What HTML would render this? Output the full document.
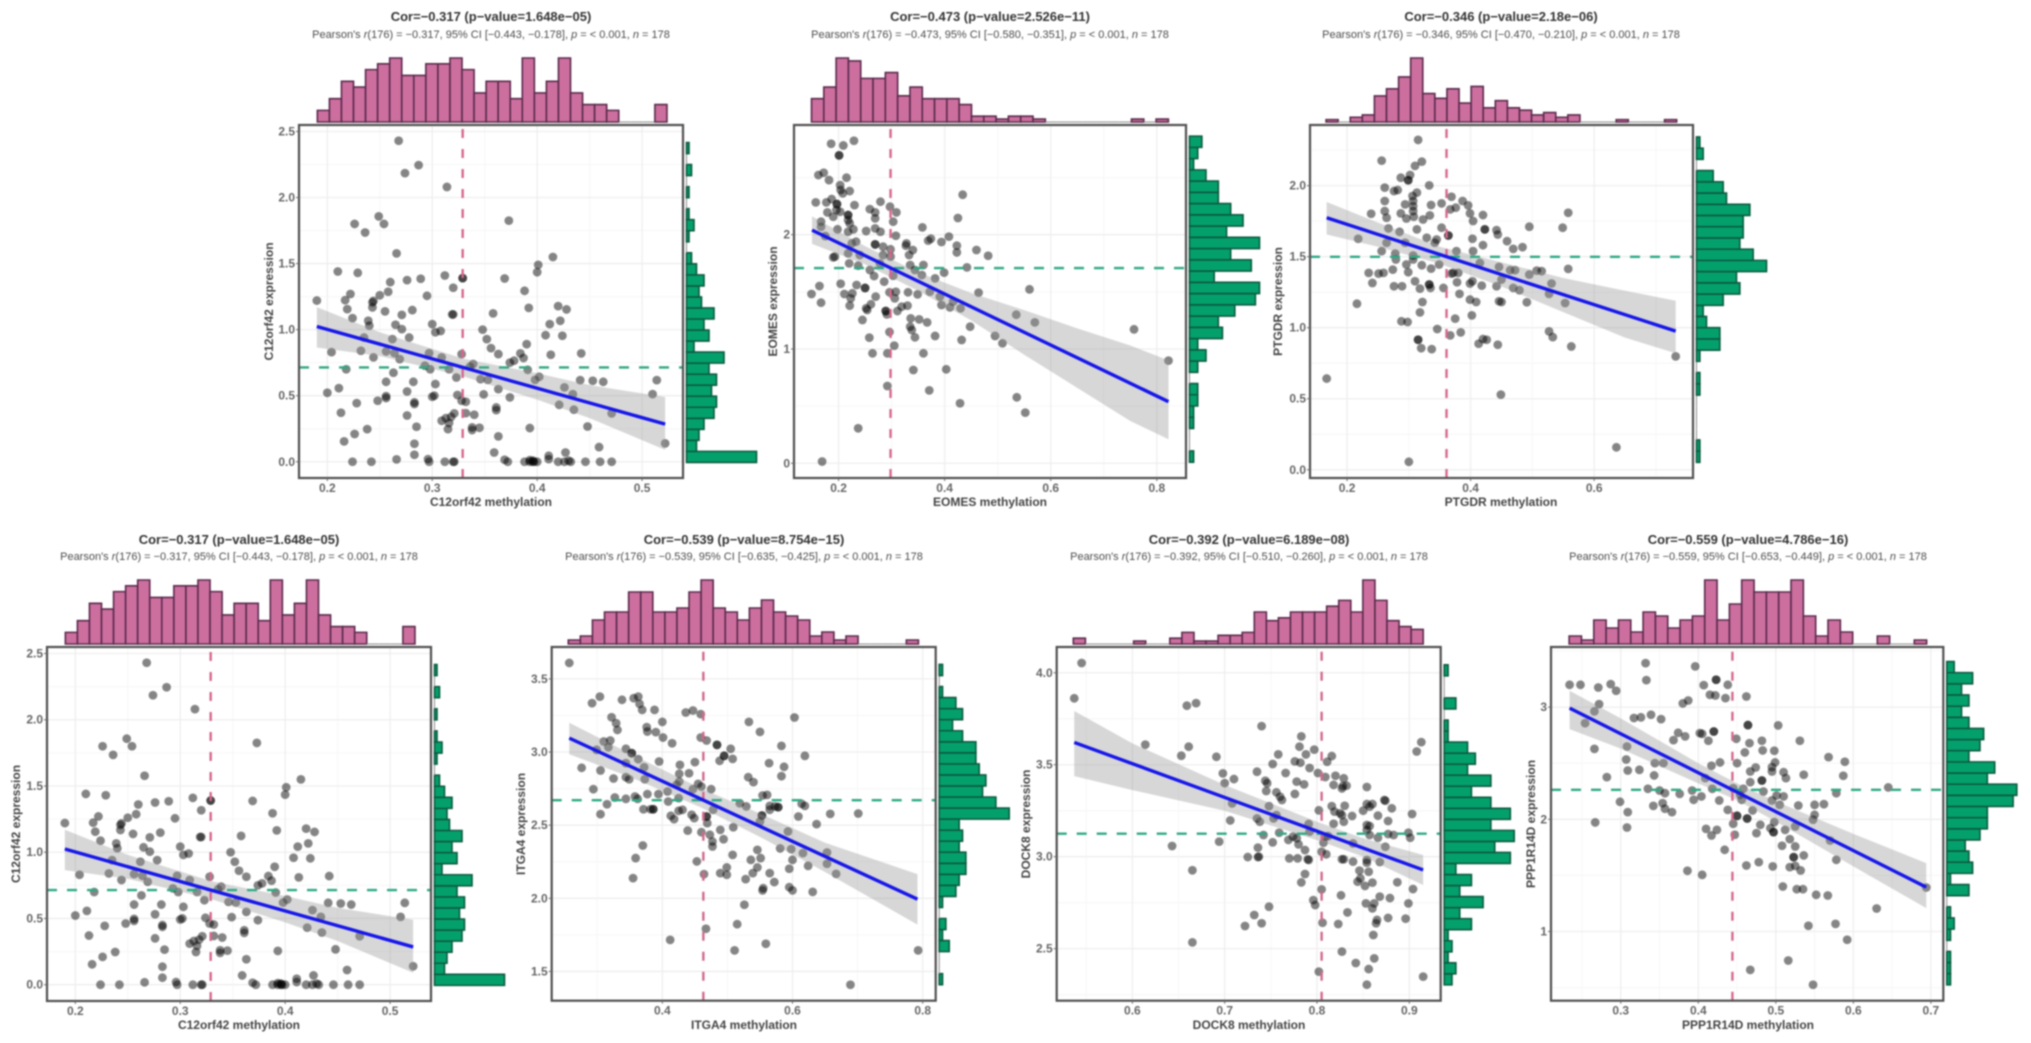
<!DOCTYPE html>
<html lang="en">
<head>
<meta charset="utf-8">
<title>Methylation and expression correlation panels</title>
<style>
html,body{margin:0;padding:0;background:#fff;width:2031px;height:1043px;overflow:hidden}
svg{display:block;filter:blur(.8px)}
text{font-family:"Liberation Sans",sans-serif}
.title{font-size:13px;font-weight:bold;fill:#333;text-anchor:middle}
.sub{font-size:11px;fill:#4c4c4c;text-anchor:middle}
.sub tspan{font-style:italic}
.axt{font-size:12px;font-weight:bold;fill:#444;text-anchor:middle}
.tick{font-size:12px;font-weight:bold;fill:#666}
</style>
</head>
<body>
<svg id="fig" width="2031" height="1043" viewBox="0 0 2031 1043" xmlns="http://www.w3.org/2000/svg">
<rect width="2031" height="1043" fill="#fff"/>
<g id="marks"></g>

<text class="title" x="491" y="21">Cor=−0.317 (p−value=1.648e−05)</text>
<text class="sub" x="491" y="38">Pearson's <tspan>r</tspan>(176) = −0.317, 95% CI [−0.443, −0.178], <tspan>p</tspan> = &lt; 0.001, <tspan>n</tspan> = 178</text>
<text class="axt" x="491" y="506">C12orf42 methylation</text>
<text class="axt" transform="translate(273,301.5) rotate(-90)">C12orf42 expression</text>

<text class="title" x="990" y="21">Cor=−0.473 (p−value=2.526e−11)</text>
<text class="sub" x="990" y="38">Pearson's <tspan>r</tspan>(176) = −0.473, 95% CI [−0.580, −0.351], <tspan>p</tspan> = &lt; 0.001, <tspan>n</tspan> = 178</text>
<text class="axt" x="990" y="506">EOMES methylation</text>
<text class="axt" transform="translate(777,301.5) rotate(-90)">EOMES expression</text>

<text class="title" x="1501" y="21">Cor=−0.346 (p−value=2.18e−06)</text>
<text class="sub" x="1501" y="38">Pearson's <tspan>r</tspan>(176) = −0.346, 95% CI [−0.470, −0.210], <tspan>p</tspan> = &lt; 0.001, <tspan>n</tspan> = 178</text>
<text class="axt" x="1501" y="506">PTGDR methylation</text>
<text class="axt" transform="translate(1282,301.5) rotate(-90)">PTGDR expression</text>

<text class="title" x="239" y="544">Cor=−0.317 (p−value=1.648e−05)</text>
<text class="sub" x="239" y="560">Pearson's <tspan>r</tspan>(176) = −0.317, 95% CI [−0.443, −0.178], <tspan>p</tspan> = &lt; 0.001, <tspan>n</tspan> = 178</text>
<text class="axt" x="239" y="1029">C12orf42 methylation</text>
<text class="axt" transform="translate(20,824) rotate(-90)">C12orf42 expression</text>

<text class="title" x="744" y="544">Cor=−0.539 (p−value=8.754e−15)</text>
<text class="sub" x="744" y="560">Pearson's <tspan>r</tspan>(176) = −0.539, 95% CI [−0.635, −0.425], <tspan>p</tspan> = &lt; 0.001, <tspan>n</tspan> = 178</text>
<text class="axt" x="744" y="1029">ITGA4 methylation</text>
<text class="axt" transform="translate(525,824) rotate(-90)">ITGA4 expression</text>

<text class="title" x="1249" y="544">Cor=−0.392 (p−value=6.189e−08)</text>
<text class="sub" x="1249" y="560">Pearson's <tspan>r</tspan>(176) = −0.392, 95% CI [−0.510, −0.260], <tspan>p</tspan> = &lt; 0.001, <tspan>n</tspan> = 178</text>
<text class="axt" x="1249" y="1029">DOCK8 methylation</text>
<text class="axt" transform="translate(1030,824) rotate(-90)">DOCK8 expression</text>

<text class="title" x="1748" y="544">Cor=−0.559 (p−value=4.786e−16)</text>
<text class="sub" x="1748" y="560">Pearson's <tspan>r</tspan>(176) = −0.559, 95% CI [−0.653, −0.449], <tspan>p</tspan> = &lt; 0.001, <tspan>n</tspan> = 178</text>
<text class="axt" x="1748" y="1029">PPP1R14D methylation</text>
<text class="axt" transform="translate(1535,824) rotate(-90)">PPP1R14D expression</text>
</svg>

<script>
// ---------- C12orf42 ----------
const c12Samples = [[.268,2.43],[.287,2.245],[.274,2.185],[.314,2.08],[.249,1.857],[.254,1.80],[.226,1.80],[.236,1.735],[.373,1.825],[.266,1.577],[.415,1.55],[.401,1.49],[.400,1.435],[.21,1.44],[.229,1.43],[.312,1.41],[.329,1.39],[.329,1.39],[.276,1.375],[.289,1.385],[.369,1.387],[.26,1.36],[.32,1.317],[.388,1.294],[.258,1.287],[.25,1.26],[.222,1.27],[.295,1.256],[.19,1.22],[.217,1.223],[.244,1.218],[.243,1.206],[.243,1.168],[.219,1.155],[.255,1.138],[.281,1.148],[.271,1.112],[.32,1.115],[.319,1.115],[.358,1.123],[.392,1.165],[.42,1.178],[.428,1.153],[.224,1.087],[.239,1.067],[.24,1.03],[.265,1.037],[.271,1.004],[.3,1.042],[.412,1.042],[.422,1.067],[.348,1.0],[.303,.98],[.308,.99],[.408,.958],[.424,.954],[.278,.94],[.235,.94],[.262,.928],[.352,.928],[.39,.89],[.356,.86],[.204,.83],[.232,.84],[.256,.835],[.264,.822],[.297,.822],[.328,.815],[.363,.815],[.413,.81],[.442,.82],[.384,.82],[.387,.785],[.244,.79],[.269,.777],[.309,.79],[.378,.765],[.374,.75],[.339,.74],[.336,.72],[.293,.727],[.298,.70],[.218,.70],[.391,.696],[.316,.70],[.263,.674],[.323,.638],[.346,.625],[.353,.62],[.402,.643],[.398,.62],[.441,.618],[.453,.613],[.463,.605],[.514,.618],[.51,.512],[.256,.605],[.282,.605],[.303,.588],[.426,.563],[.363,.55],[.211,.557],[.2,.522],[.276,.532],[.324,.505],[.349,.51],[.374,.487],[.434,.512],[.302,.5],[.3,.492],[.256,.497],[.256,.482],[.248,.462],[.228,.444],[.283,.45],[.283,.437],[.328,.462],[.332,.454],[.421,.431],[.435,.394],[.361,.411],[.361,.391],[.213,.371],[.276,.35],[.321,.366],[.332,.368],[.34,.356],[.471,.366],[.309,.31],[.313,.33],[.318,.34],[.316,.293],[.315,.247],[.338,.26],[.345,.257],[.338,.24],[.285,.265],[.393,.255],[.448,.267],[.238,.247],[.226,.21],[.363,.192],[.216,.154],[.283,.136],[.459,.111],[.522,.139],[.283,.053],[.359,.07],[.427,.07],[.411,.045],[.411,.02],[.296,.02],[.266,.018],[.369,.015],[.224,0],[.242,0],[.297,0],[.312,0],[.32,0],[.321,0],[.372,0],[.388,0],[.393,.012],[.396,.008],[.397,0],[.4,0],[.393,0],[.396,0],[.42,0],[.426,0],[.43,.008],[.432,0],[.446,0],[.46,0],[.471,0]];
const c12FitX = [.19,.522];
const c12FitY = [1.024,.285];
const c12BandX = [.19,.25,.33,.40,.45,.522];
const c12BandLow = [.865,.80,.645,.47,.33,.09];
const c12BandHigh = [1.17,.98,.78,.67,.58,.49];
const c12XCounts = [2,4,7,6,9,10,11,8,8,10,10,11,9,5,7,7,4,11,5,7,11,5,3,3,2,0,0,0,3];
const c12YCounts = [28,4,5,7,11,12,10,12,9,15,3,9,7,11,6,5,7,4,2,0,1,3,1,0,1,0,2,0,1];
const c12XTicks = [.2,.3,.4,.5];
const c12XLabels = ['0.2','0.3','0.4','0.5'];
const c12YTicks = [0,.5,1,1.5,2,2.5];
const c12YLabels = ['0.0','0.5','1.0','1.5','2.0','2.5'];
const c12Medians = [.329,.714];

// ---------- EOMES ----------
const eomesSamples = [[.186,2.796],[.209,2.781],[.229,2.822],[.201,2.694],[.201,2.694],[.162,2.522],[.172,2.542],[.215,2.499],[.182,2.478],[.203,2.434],[.204,2.391],[.221,2.382],[.208,2.362],[.157,2.283],[.177,2.283],[.187,2.312],[.197,2.268],[.197,2.268],[.230,2.259],[.279,2.289],[.297,2.245],[.309,2.195],[.434,2.350],[.425,2.146],[.259,2.224],[.269,2.195],[.269,2.143],[.179,2.195],[.196,2.216],[.203,2.201],[.218,2.172],[.218,2.172],[.190,2.157],[.218,2.128],[.167,2.114],[.303,2.114],[.221,2.099],[.358,2.064],[.167,2.070],[.198,2.047],[.228,2.047],[.218,2.026],[.252,2.032],[.269,2.055],[.279,2.026],[.308,1.991],[.175,1.988],[.408,1.983],[.374,1.965],[.369,1.948],[.394,1.936],[.423,1.904],[.423,1.845],[.460,1.866],[.482,1.816],[.328,1.924],[.269,1.915],[.269,1.915],[.233,1.939],[.284,1.895],[.298,1.872],[.340,1.866],[.327,1.904],[.225,1.924],[.193,1.808],[.190,1.802],[.218,1.837],[.240,1.822],[.284,1.822],[.298,1.808],[.333,1.822],[.220,1.749],[.237,1.729],[.259,1.691],[.267,1.638],[.303,1.641],[.278,1.749],[.335,1.735],[.344,1.691],[.360,1.735],[.382,1.618],[.399,1.668],[.442,1.714],[.357,1.647],[.164,1.551],[.204,1.571],[.234,1.560],[.211,1.481],[.226,1.487],[.223,1.443],[.149,1.481],[.167,1.405],[.250,1.534],[.250,1.534],[.270,1.458],[.286,1.589],[.296,1.496],[.308,1.501],[.306,1.443],[.331,1.496],[.349,1.478],[.372,1.501],[.464,1.493],[.560,1.522],[.221,1.379],[.261,1.391],[.252,1.356],[.254,1.341],[.289,1.332],[.289,1.332],[.291,1.303],[.311,1.332],[.319,1.370],[.330,1.379],[.394,1.385],[.410,1.364],[.416,1.414],[.430,1.356],[.391,1.458],[.245,1.254],[.336,1.268],[.352,1.259],[.367,1.233],[.535,1.300],[.570,1.233],[.335,1.195],[.338,1.166],[.448,1.195],[.296,1.149],[.258,1.099],[.344,1.102],[.382,1.114],[.432,1.079],[.495,1.114],[.509,1.050],[.757,1.172],[.305,1.029],[.264,.962],[.292,.962],[.360,.962],[.341,.816],[.403,.822],[.822,.898],[.292,.676],[.371,.638],[.536,.577],[.429,.525],[.552,.443],[.237,.306],[.169,.015]];
const eomesFitX = [.15,.822];
const eomesFitY = [2.04,.539];
const eomesBandX = [.15,.25,.35,.45,.55,.65,.75,.822];
const eomesBandLow = [1.92,1.74,1.51,1.25,.95,.66,.37,.21];
const eomesBandHigh = [2.16,1.90,1.67,1.49,1.34,1.18,1.03,.90];
const eomesXCounts = [8,12,22,21,15,15,17,9,12,8,8,8,6,2,2,1,2,2,1,0,0,0,0,0,0,0,1,0,1];
const eomesYCounts = [1,0,0,1,1,2,2,0,2,4,2,8,7,11,16,17,6,15,10,17,9,13,10,7,7,4,1,2,3];
const eomesXTicks = [.2,.4,.6,.8];
const eomesXLabels = ['0.2','0.4','0.6','0.8'];
const eomesYTicks = [0,1,2];
const eomesYLabels = ['0','1','2'];
const eomesMedians = [.298,1.708];

// ---------- PTGDR ----------
const ptgdrSamples = [[.315,2.322],[.256,2.176],[.321,2.169],[.310,2.139],[.287,2.056],[.302,2.075],[.299,2.038],[.299,2.038],[.261,1.986],[.282,1.969],[.276,1.962],[.333,2.002],[.313,1.951],[.306,1.927],[.261,1.892],[.307,1.892],[.307,1.856],[.294,1.868],[.369,1.922],[.353,1.875],[.387,1.892],[.396,1.861],[.376,1.845],[.367,1.833],[.336,1.864],[.261,1.821],[.287,1.805],[.239,1.802],[.307,1.821],[.308,1.781],[.264,1.774],[.296,1.769],[.334,1.791],[.323,1.762],[.399,1.805],[.420,1.793],[.404,1.751],[.558,1.809],[.495,1.711],[.549,1.704],[.267,1.699],[.285,1.675],[.313,1.692],[.353,1.704],[.423,1.692],[.423,1.692],[.442,1.687],[.444,1.656],[.364,1.649],[.364,1.649],[.218,1.626],[.329,1.633],[.342,1.598],[.403,1.626],[.420,1.581],[.459,1.609],[.469,1.555],[.484,1.567],[.264,1.598],[.294,1.598],[.256,1.539],[.278,1.522],[.307,1.508],[.377,1.539],[.404,1.539],[.345,1.621],[.279,1.48],[.307,1.48],[.296,1.445],[.299,1.391],[.235,1.386],[.251,1.381],[.259,1.386],[.274,1.409],[.321,1.44],[.336,1.416],[.349,1.445],[.415,1.456],[.446,1.428],[.464,1.405],[.472,1.405],[.495,1.374],[.507,1.402],[.515,1.398],[.558,1.414],[.372,1.386],[.380,1.386],[.369,1.381],[.378,1.32],[.356,1.28],[.241,1.315],[.276,1.292],[.289,1.292],[.310,1.327],[.318,1.275],[.333,1.304],[.333,1.304],[.335,1.28],[.399,1.311],[.403,1.327],[.418,1.296],[.442,1.292],[.450,1.339],[.469,1.28],[.479,1.264],[.531,1.311],[.527,1.238],[.553,1.174],[.382,1.238],[.399,1.198],[.409,1.181],[.446,1.186],[.450,1.181],[.491,1.179],[.216,1.169],[.322,1.181],[.318,1.108],[.288,1.045],[.298,1.04],[.375,1.064],[.402,1.087],[.346,.991],[.367,.946],[.384,.967],[.527,.974],[.533,.934],[.315,.915],[.315,.915],[.320,.856],[.337,.849],[.413,.887],[.420,.92],[.426,.915],[.444,.88],[.563,.868],[.732,.798],[.167,.642],[.449,.529],[.636,.158],[.300,.056]];
const ptgdrFitX = [.167,.732];
const ptgdrFitY = [1.774,.976];
const ptgdrBandX = [.167,.25,.35,.45,.55,.65,.732];
const ptgdrBandLow = [1.656,1.57,1.45,1.29,1.11,.93,.82];
const ptgdrBandHigh = [1.885,1.74,1.57,1.46,1.35,1.26,1.19];
const ptgdrXCounts = [1,0,2,3,11,14,19,27,12,10,14,8,15,6,9,6,5,3,4,2,3,0,0,0,1,0,0,0,1];
const ptgdrYCounts = [1,1,0,0,0,0,1,1,0,1,7,7,3,2,8,13,12,21,17,13,14,14,16,9,8,5,0,2,1];
const ptgdrXTicks = [.2,.4,.6];
const ptgdrXLabels = ['0.2','0.4','0.6'];
const ptgdrYTicks = [0,.5,1,1.5,2];
const ptgdrYLabels = ['0.0','0.5','1.0','1.5','2.0'];
const ptgdrMedians = [.361,1.499];

// ---------- ITGA4 ----------
const itga4Samples = [[.257,3.609],[.304,3.379],[.292,3.334],[.338,3.357],[.356,3.368],[.363,3.379],[.365,3.329],[.369,3.288],[.388,3.288],[.436,3.270],[.447,3.284],[.459,3.259],[.603,3.236],[.322,3.238],[.400,3.206],[.329,3.197],[.331,3.151],[.376,3.170],[.377,3.140],[.390,3.136],[.401,3.099],[.533,3.206],[.550,3.138],[.415,3.060],[.459,3.099],[.468,3.079],[.484,3.049],[.484,3.049],[.505,3.022],[.583,3.042],[.619,2.974],[.310,3.072],[.320,3.079],[.317,3.033],[.344,3.022],[.353,2.992],[.353,2.992],[.363,2.951],[.299,3.015],[.495,2.974],[.495,2.974],[.488,2.94],[.508,2.953],[.395,2.935],[.564,2.924],[.427,2.912],[.450,2.931],[.587,2.899],[.372,2.896],[.344,2.924],[.276,2.892],[.305,2.874],[.426,2.851],[.441,2.855],[.583,2.835],[.532,2.828],[.540,2.794],[.325,2.819],[.344,2.828],[.349,2.814],[.373,2.814],[.426,2.798],[.422,2.776],[.455,2.782],[.460,2.764],[.294,2.746],[.447,2.746],[.475,2.746],[.408,2.730],[.377,2.712],[.394,2.712],[.327,2.689],[.344,2.680],[.358,2.696],[.362,2.680],[.425,2.685],[.554,2.703],[.561,2.707],[.614,2.646],[.409,2.662],[.519,2.650],[.315,2.643],[.371,2.609],[.382,2.609],[.386,2.609],[.386,2.609],[.425,2.598],[.431,2.605],[.478,2.605],[.529,2.628],[.565,2.632],[.573,2.628],[.578,2.623],[.578,2.623],[.565,2.605],[.619,2.632],[.305,2.575],[.413,2.564],[.418,2.541],[.445,2.571],[.449,2.548],[.468,2.559],[.468,2.559],[.553,2.566],[.553,2.566],[.609,2.559],[.658,2.577],[.701,2.580],[.469,2.514],[.550,2.525],[.637,2.507],[.509,2.486],[.439,2.463],[.460,2.452],[.489,2.468],[.473,2.434],[.593,2.457],[.494,2.404],[.477,2.388],[.477,2.354],[.370,2.361],[.546,2.331],[.581,2.341],[.598,2.336],[.616,2.309],[.653,2.313],[.508,2.297],[.359,2.275],[.536,2.263],[.551,2.275],[.600,2.263],[.453,2.252],[.653,2.236],[.624,2.222],[.499,2.211],[.546,2.211],[.595,2.202],[.489,2.172],[.499,2.161],[.539,2.172],[.565,2.172],[.667,2.167],[.464,2.165],[.355,2.138],[.528,2.131],[.572,2.111],[.555,2.069],[.554,2.054],[.595,2.076],[.600,2.054],[.631,2.044],[.526,1.956],[.515,1.823],[.467,1.792],[.412,1.716],[.559,1.689],[.511,1.644],[.793,1.644],[.689,1.409]];
const itga4FitX = [.257,.792];
const itga4FitY = [3.095,1.994];
const itga4BandX = [.257,.35,.46,.55,.65,.792];
const itga4BandLow = [2.985,2.83,2.62,2.42,2.18,1.82];
const itga4BandHigh = [3.20,2.99,2.75,2.58,2.38,2.165];
const itga4XCounts = [1,2,6,8,8,13,13,8,8,9,13,16,9,8,6,9,11,8,7,6,2,3,1,2,0,0,0,0,1];
const itga4YCounts = [1,0,0,3,1,2,0,1,5,6,8,8,6,7,6,21,17,13,14,12,11,11,7,4,7,5,1,0,1];
const itga4XTicks = [.4,.6,.8];
const itga4XLabels = ['0.4','0.6','0.8'];
const itga4YTicks = [1.5,2,2.5,3,3.5];
const itga4YLabels = ['1.5','2.0','2.5','3.0','3.5'];
const itga4Medians = [.463,2.671];

// ---------- DOCK8 ----------
const dock8Samples = [[.545,4.053],[.537,3.861],[.659,3.821],[.669,3.835],[.740,3.71],[.614,3.609],[.783,3.654],[.781,3.598],[.661,3.598],[.653,3.549],[.691,3.543],[.758,3.556],[.788,3.556],[.797,3.582],[.913,3.623],[.908,3.572],[.816,3.547],[.811,3.516],[.752,3.504],[.776,3.518],[.782,3.511],[.792,3.482],[.735,3.462],[.766,3.455],[.698,3.453],[.801,3.455],[.809,3.433],[.820,3.44],[.829,3.426],[.710,3.422],[.744,3.413],[.746,3.399],[.778,3.408],[.786,3.393],[.700,3.4],[.818,3.39],[.827,3.371],[.832,3.386],[.828,3.384],[.854,3.379],[.745,3.357],[.756,3.35],[.776,3.341],[.762,3.308],[.760,3.326],[.874,3.304],[.873,3.308],[.881,3.263],[.708,3.29],[.748,3.275],[.816,3.275],[.830,3.277],[.854,3.286],[.860,3.286],[.857,3.272],[.850,3.25],[.802,3.252],[.819,3.245],[.825,3.236],[.827,3.226],[.838,3.221],[.866,3.223],[.903,3.232],[.756,3.226],[.735,3.208],[.753,3.208],[.738,3.19],[.706,3.197],[.829,3.19],[.877,3.194],[.791,3.178],[.818,3.179],[.854,3.172],[.857,3.167],[.854,3.145],[.857,3.118],[.866,3.103],[.742,3.118],[.759,3.13],[.774,3.109],[.812,3.112],[.809,3.109],[.877,3.123],[.883,3.118],[.899,3.13],[.901,3.103],[.792,3.136],[.769,3.091],[.778,3.1],[.807,3.076],[.694,3.082],[.752,3.078],[.780,3.067],[.787,3.036],[.736,3.049],[.643,3.058],[.839,3.072],[.874,3.054],[.805,3.027],[.810,3.013],[.725,2.998],[.736,2.998],[.737,3.0],[.770,2.991],[.779,2.991],[.790,2.986],[.791,2.982],[.827,2.986],[.829,2.986],[.839,2.973],[.854,2.982],[.854,2.967],[.868,2.971],[.665,2.926],[.846,2.924],[.856,2.918],[.787,2.906],[.847,2.882],[.844,2.864],[.783,2.86],[.860,2.859],[.887,2.861],[.852,2.841],[.904,2.824],[.805,2.822],[.826,2.79],[.868,2.783],[.879,2.775],[.796,2.764],[.853,2.746],[.862,2.746],[.899,2.746],[.798,2.737],[.748,2.728],[.860,2.719],[.833,2.697],[.732,2.683],[.877,2.667],[.896,2.663],[.865,2.656],[.864,2.638],[.740,2.638],[.806,2.641],[.823,2.634],[.722,2.623],[.861,2.574],[.665,2.534],[.827,2.484],[.862,2.447],[.842,2.422],[.856,2.389],[.802,2.375],[.915,2.348],[.854,2.304]];
const dock8FitX = [.537,.915];
const dock8FitY = [3.621,2.928];
const dock8BandX = [.537,.6,.7,.8,.85,.915];
const dock8BandLow = [3.438,3.362,3.25,3.09,3.00,2.846];
const dock8BandHigh = [3.792,3.616,3.39,3.19,3.10,3.009];
const dock8XCounts = [2,0,0,0,0,1,0,0,2,4,1,1,3,3,4,11,8,9,11,11,11,13,15,11,22,15,8,6,5];
const dock8YCounts = [2,3,1,2,1,7,4,10,4,7,3,17,13,18,12,17,12,7,12,6,8,6,1,1,0,3,0,0,1];
const dock8XTicks = [.6,.7,.8,.9];
const dock8XLabels = ['0.6','0.7','0.8','0.9'];
const dock8YTicks = [2.5,3,3.5,4];
const dock8YLabels = ['2.5','3.0','3.5','4.0'];
const dock8Medians = [.805,3.125];

// ---------- PPP1R14D ----------
const pppSamples = [[.332,3.392],[.396,3.363],[.333,3.241],[.423,3.244],[.423,3.244],[.234,3.199],[.248,3.199],[.271,3.175],[.287,3.205],[.294,3.146],[.407,3.196],[.438,3.199],[.415,3.11],[.422,3.104],[.435,3.08],[.462,3.095],[.272,3.027],[.380,3.033],[.387,3.059],[.266,2.962],[.317,2.903],[.326,2.909],[.339,2.932],[.352,2.893],[.254,2.857],[.464,2.84],[.464,2.84],[.503,2.837],[.374,2.771],[.383,2.739],[.402,2.768],[.405,2.762],[.420,2.783],[.420,2.783],[.368,2.706],[.413,2.70],[.449,2.718],[.466,2.679],[.482,2.70],[.531,2.70],[.266,2.628],[.308,2.649],[.460,2.596],[.483,2.614],[.498,2.611],[.307,2.533],[.344,2.501],[.355,2.501],[.428,2.507],[.450,2.501],[.417,2.477],[.499,2.507],[.568,2.554],[.589,2.513],[.474,2.462],[.495,2.465],[.309,2.435],[.324,2.441],[.467,2.426],[.510,2.42],[.495,2.426],[.536,2.397],[.587,2.388],[.343,2.391],[.282,2.376],[.409,2.367],[.513,2.367],[.467,2.331],[.482,2.346],[.482,2.346],[.335,2.272],[.350,2.257],[.357,2.233],[.418,2.272],[.445,2.278],[.458,2.272],[.392,2.257],[.645,2.284],[.484,2.248],[.578,2.233],[.376,2.227],[.404,2.204],[.454,2.218],[.501,2.212],[.510,2.204],[.394,2.174],[.427,2.168],[.456,2.174],[.495,2.168],[.299,2.156],[.354,2.144],[.342,2.12],[.529,2.123],[.550,2.129],[.562,2.135],[.505,2.129],[.438,2.084],[.357,2.094],[.366,2.064],[.309,2.064],[.470,2.079],[.450,2.031],[.450,2.031],[.463,2.007],[.463,2.007],[.550,2.04],[.548,1.996],[.267,1.972],[.445,1.96],[.498,1.975],[.480,1.951],[.308,1.927],[.410,1.915],[.424,1.906],[.493,1.921],[.512,1.906],[.497,1.886],[.497,1.886],[.475,1.877],[.525,1.936],[.417,1.856],[.447,1.862],[.518,1.823],[.570,1.811],[.508,1.764],[.525,1.758],[.434,1.728],[.536,1.678],[.523,1.663],[.523,1.663],[.578,1.639],[.478,1.618],[.462,1.588],[.496,1.58],[.518,1.574],[.525,1.585],[.532,1.544],[.386,1.541],[.405,1.505],[.509,1.401],[.527,1.377],[.535,1.377],[.694,1.392],[.552,1.327],[.567,1.321],[.630,1.205],[.542,1.051],[.577,1.068],[.592,.926],[.516,.741],[.467,.658],[.548,.525]];
const pppFitX = [.234,.694];
const pppFitY = [2.991,1.395];
const pppBandX = [.234,.3,.4,.45,.5,.6,.694];
const pppBandLow = [2.804,2.63,2.32,2.17,1.98,1.58,1.208];
const pppBandHigh = [3.146,2.90,2.50,2.32,2.16,1.87,1.609];
const pppXCounts = [2,1,6,4,6,3,8,7,4,6,7,16,6,10,16,13,13,13,16,7,2,6,3,0,0,2,0,0,1];
const pppYCounts = [1,1,1,0,1,2,1,0,6,1,7,6,5,9,11,11,18,19,11,13,6,9,10,6,4,6,4,7,2];
const pppXTicks = [.3,.4,.5,.6,.7];
const pppXLabels = ['0.3','0.4','0.5','0.6','0.7'];
const pppYTicks = [1,2,3];
const pppYLabels = ['1','2','3'];
const pppMedians = [.444,2.263];

// ---------- Panel layout (frames, axis domains, histogram bins) ----------
const panels = [
 {key:'c12orf42-top',frame:[299,125,683,478],xDom:[.173,.539],yDom:[-.123,2.549],samples:c12Samples,fitX:c12FitX,fitY:c12FitY,bandX:c12BandX,low:c12BandLow,high:c12BandHigh,xCounts:c12XCounts,yCounts:c12YCounts,xBin:[.1905,.01149],yBin:[-.005,.0835],xT:c12XTicks,xL:c12XLabels,yT:c12YTicks,yL:c12YLabels,med:c12Medians},
 {key:'eomes',frame:[794,125,1186,478],xDom:[.116,.855],yDom:[-.129,2.96],samples:eomesSamples,fitX:eomesFitX,fitY:eomesFitY,bandX:eomesBandX,low:eomesBandLow,high:eomesBandHigh,xCounts:eomesXCounts,yCounts:eomesYCounts,xBin:[.149,.0232],yBin:[.009,.0984],xT:eomesXTicks,xL:eomesXLabels,yT:eomesYTicks,yL:eomesYLabels,med:eomesMedians},
 {key:'ptgdr',frame:[1310,125,1693,478],xDom:[.140,.760],yDom:[-.058,2.427],samples:ptgdrSamples,fitX:ptgdrFitX,fitY:ptgdrFitY,bandX:ptgdrBandX,low:ptgdrBandLow,high:ptgdrBandHigh,xCounts:ptgdrXCounts,yCounts:ptgdrYCounts,xBin:[.166,.01957],yBin:[.052,.079],xT:ptgdrXTicks,xL:ptgdrXLabels,yT:ptgdrYTicks,yL:ptgdrYLabels,med:ptgdrMedians},
 {key:'c12orf42-bottom',frame:[47,647,431,1001],xDom:[.173,.539],yDom:[-.123,2.549],samples:c12Samples,fitX:c12FitX,fitY:c12FitY,bandX:c12BandX,low:c12BandLow,high:c12BandHigh,xCounts:c12XCounts,yCounts:c12YCounts,xBin:[.1905,.01149],yBin:[-.005,.0835],xT:c12XTicks,xL:c12XLabels,yT:c12YTicks,yL:c12YLabels,med:c12Medians},
 {key:'itga4',frame:[551.7,647,935.7,1000.7],xDom:[.230,.820],yDom:[1.300,3.718],samples:itga4Samples,fitX:itga4FitX,fitY:itga4FitY,bandX:itga4BandX,low:itga4BandLow,high:itga4BandHigh,xCounts:itga4XCounts,yCounts:itga4YCounts,xBin:[.2555,.01855],yBin:[1.409,.0755],xT:itga4XTicks,xL:itga4XLabels,yT:itga4YTicks,yL:itga4YLabels,med:itga4Medians},
 {key:'dock8',frame:[1056.7,647,1440.7,1000.7],xDom:[.518,.934],yDom:[2.217,4.14],samples:dock8Samples,fitX:dock8FitX,fitY:dock8FitY,bandX:dock8BandX,low:dock8BandLow,high:dock8BandHigh,xCounts:dock8XCounts,yCounts:dock8YCounts,xBin:[.536,.01307],yBin:[2.303,.06],xT:dock8XTicks,xL:dock8XLabels,yT:dock8YTicks,yL:dock8YLabels,med:dock8Medians},
 {key:'ppp1r14d',frame:[1551,647,1943.3,1000.7],xDom:[.210,.716],yDom:[.383,3.536],samples:pppSamples,fitX:pppFitX,fitY:pppFitY,bandX:pppBandX,low:pppBandLow,high:pppBandHigh,xCounts:pppXCounts,yCounts:pppYCounts,xBin:[.2334,.0159],yBin:[.524,.0994],xT:pppXTicks,xL:pppXLabels,yT:pppYTicks,yL:pppYLabels,med:pppMedians}
];

const SVGNS = 'http://www.w3.org/2000/svg';
const TOP_HIST_H = 64, RIGHT_HIST_W = 70;

function mk(tag, attrs, parent) {
  const n = document.createElementNS(SVGNS, tag);
  for (const k in attrs) n.setAttribute(k, attrs[k]);
  parent.appendChild(n);
  return n;
}

function drawPanel(p) {
  const root = document.getElementById('marks');
  const [L, T, R, B] = p.frame;
  const sx = v => L + (v - p.xDom[0]) / (p.xDom[1] - p.xDom[0]) * (R - L);
  const sy = v => B - (v - p.yDom[0]) / (p.yDom[1] - p.yDom[0]) * (B - T);

  const g = mk('g', {}, root);
  
  

  // gridlines: minor halfway between major ticks, then major
  const minor = ticks => {
    const out = [], st = ticks[1] - ticks[0];
    out.push(ticks[0] - st / 2);
    ticks.forEach(t => out.push(t + st / 2));
    return out;
  };
  minor(p.xT).forEach(v => {
    if (v <= p.xDom[0] || v >= p.xDom[1]) return;
    const l = mk('line', {x1: sx(v), x2: sx(v), y1: T, y2: B, stroke: '#f6f6f6', 'stroke-width': 1}, g);
    
    
  });
  minor(p.yT).forEach(v => {
    if (v <= p.yDom[0] || v >= p.yDom[1]) return;
    const l = mk('line', {x1: L, x2: R, y1: sy(v), y2: sy(v), stroke: '#f6f6f6', 'stroke-width': 1}, g);
    
    
  });
  p.xT.forEach(v => {
    const l = mk('line', {x1: sx(v), x2: sx(v), y1: T, y2: B, stroke: '#eeeeee', 'stroke-width': 1.3}, g);
    
    
  });
  p.yT.forEach(v => {
    const l = mk('line', {x1: L, x2: R, y1: sy(v), y2: sy(v), stroke: '#eeeeee', 'stroke-width': 1.3}, g);
    
    
  });

  // scatter points
  p.samples.forEach(s => {
    const c = mk('circle', {cx: sx(s[0]), cy: sy(s[1]), r: 4.4, fill: 'rgba(0,0,0,.48)'}, g);
    
    
  });

  // confidence band
  const upper = p.bandX.map((x, i) => sx(x) + ',' + sy(p.high[i]));
  const lower = p.bandX.map((x, i) => sx(x) + ',' + sy(p.low[i])).reverse();
  const band = mk('polygon', {points: upper.concat(lower).join(' '), fill: 'rgba(150,150,150,.38)'}, g);
  
  

  // median reference lines
  const vl = mk('line', {x1: sx(p.med[0]), x2: sx(p.med[0]), y1: B, y2: T, stroke: '#d4688f', 'stroke-width': 2.4, 'stroke-dasharray': '9 11'}, g);
  
  
  const hl = mk('line', {x1: L, x2: R, y1: sy(p.med[1]), y2: sy(p.med[1]), stroke: '#2fa884', 'stroke-width': 2.4, 'stroke-dasharray': '10 10'}, g);
  
  

  // regression line
  const fit = mk('polyline', {points: p.fitX.map((x, i) => sx(x) + ',' + sy(p.fitY[i])).join(' '), fill: 'none', stroke: '#1616ea', 'stroke-width': 3.4}, g);
  
  

  // frame
  const fr = mk('rect', {x: L, y: T, width: R - L, height: B - T, fill: 'none', stroke: '#505050', 'stroke-width': 2.2}, g);
  
  

  // ticks & labels
  p.xT.forEach((v, i) => {
    const t = mk('line', {x1: sx(v), x2: sx(v), y1: B, y2: B + 3, stroke: '#666', 'stroke-width': 1}, g);
    
    
    const tx = mk('text', {x: sx(v), y: B + 14, 'text-anchor': 'middle', class: 'tick'}, g);
    
    
    tx.textContent = p.xL[i];
  });
  p.yT.forEach((v, i) => {
    const t = mk('line', {x1: L - 3, x2: L, y1: sy(v), y2: sy(v), stroke: '#666', 'stroke-width': 1}, g);
    
    
    const tx = mk('text', {x: L - 4, y: sy(v) + 4, 'text-anchor': 'end', class: 'tick'}, g);
    
    
    tx.textContent = p.yL[i];
  });

  // top marginal histogram
  const baseT = T - 3;
  const maxX = Math.max.apply(null, p.xCounts);
  p.xCounts.forEach((n, i) => {
    const x0 = sx(p.xBin[0] + i * p.xBin[1]), x1 = sx(p.xBin[0] + (i + 1) * p.xBin[1]);
    const top = baseT - n / maxX * TOP_HIST_H;
    const b = mk('path', {d: 'M' + x0 + ' ' + baseT + 'V' + top + 'H' + x1 + 'V' + baseT + 'Z', fill: '#cc6f9f', stroke: n ? '#5b2a4c' : '#8a8a8a', 'stroke-width': n ? 1.6 : 1}, g);
    
    
  });

  // right marginal histogram
  const baseR = R + 3.5;
  const maxY = Math.max.apply(null, p.yCounts);
  p.yCounts.forEach((n, i) => {
    const y0 = sy(p.yBin[0] + i * p.yBin[1]), y1 = sy(p.yBin[0] + (i + 1) * p.yBin[1]);
    const right = baseR + n / maxY * RIGHT_HIST_W;
    const b = mk('path', {d: 'M' + baseR + ' ' + y0 + 'H' + right + 'V' + y1 + 'H' + baseR + 'Z', fill: '#04a06c', stroke: n ? '#0b5a40' : '#8a8a8a', 'stroke-width': n ? 1.6 : 1}, g);
    
    
  });
}

panels.forEach(drawPanel);
</script>
</body>
</html>
